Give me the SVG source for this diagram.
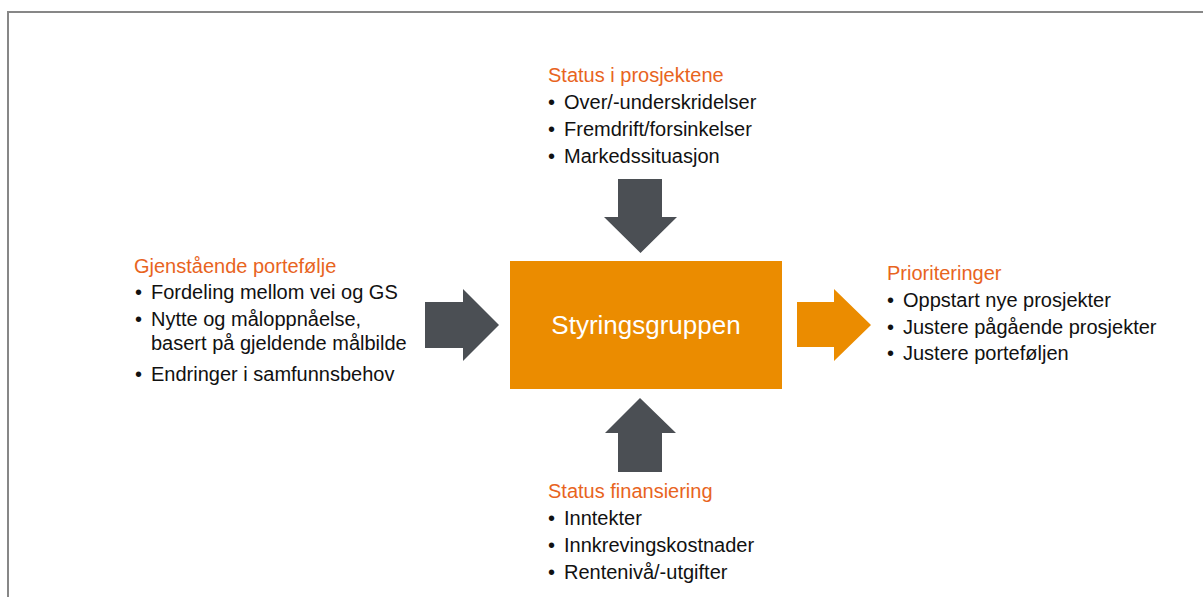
<svg xmlns="http://www.w3.org/2000/svg" width="1203" height="597" viewBox="0 0 1203 597">
<style>
text{font-family:"Liberation Sans",Arial,sans-serif;font-size:20px;fill:#111}
.t{fill:#E8641E}
.c{fill:#fff;font-size:26px;text-anchor:middle}
.dark{fill:#4B4F54}
.org{fill:#EB8C00}
</style>
<rect width="1203" height="597" fill="#fff"/>
<path d="M8 597V12H1203" fill="none" stroke="#878787" stroke-width="2"/>
<g id="connectors">
<polygon class="dark" points="618,179 662,179 662,217 677,217 640.5,253 604,217 618,217"/>
<polygon class="dark" points="618,472 662,472 662,433 676,433 640,398 605,433 618,433"/>
<polygon class="dark" points="425,302 463,302 463,289 499,325 463,361 463,348 425,348"/>
<polygon class="org" points="797,302 834,302 834,289 871,325 834,361 834,347 797,347"/>
</g>
<g id="styringsgruppen">
<rect class="org" x="510" y="261" width="272" height="128"/>
<text class="c" x="646" y="334">Styringsgruppen</text>
</g>
<g id="status-prosjektene">
<text class="t" x="548" y="82">Status i prosjektene</text>
<text x="548" y="109">•</text><text x="564" y="109">Over/-underskridelser</text>
<text x="548" y="136">•</text><text x="564" y="136">Fremdrift/forsinkelser</text>
<text x="548" y="163">•</text><text x="564" y="163">Markedssituasjon</text>
</g>
<g id="gjenstaende-portefolje">
<text class="t" x="134" y="273">Gjenstående portefølje</text>
<text x="135" y="299">•</text><text x="151" y="299">Fordeling mellom vei og GS</text>
<text x="135" y="326">•</text><text x="151" y="326">Nytte og måloppnåelse,</text>
<text x="151" y="350">basert på gjeldende målbilde</text>
<text x="135" y="381">•</text><text x="151" y="381">Endringer i samfunnsbehov</text>
</g>
<g id="prioriteringer">
<text class="t" x="887" y="280">Prioriteringer</text>
<text x="887" y="307">•</text><text x="903" y="307">Oppstart nye prosjekter</text>
<text x="887" y="334">•</text><text x="903" y="334">Justere pågående prosjekter</text>
<text x="887" y="360">•</text><text x="903" y="360">Justere porteføljen</text>
</g>
<g id="status-finansiering">
<text class="t" x="548" y="498">Status finansiering</text>
<text x="548" y="525">•</text><text x="564" y="525">Inntekter</text>
<text x="548" y="552">•</text><text x="564" y="552">Innkrevingskostnader</text>
<text x="548" y="579">•</text><text x="564" y="579">Rentenivå/-utgifter</text>
</g>
</svg>
